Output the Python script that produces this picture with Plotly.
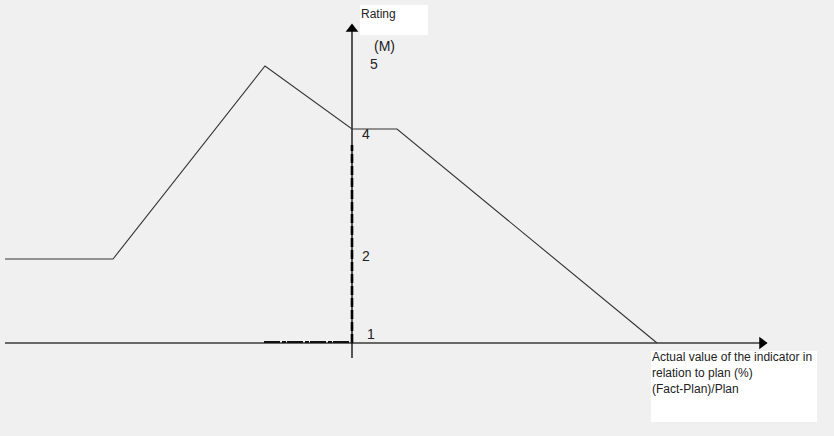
import plotly.graph_objects as go

# --- schematic data (chart units: x = offset from the rating axis, y = height above the plan axis) ---
curve_x = [-347, -239, -87, 0, 45, 305]
curve_y = [84, 84, 277, 214, 214, 0]

axis_x_span = [-347, 415]
axis_y_span = [-15, 318]
dashed_top = 198
flat_seg_x = [-88, 0]

rating_labels = ["5", "4", "2", "1"]
rating_label_pos = [(16, 279), (8, 209), (8, 87), (13, 9)]

BG = "#f0f0f0"
FONT = "Liberation Sans, Arial, sans-serif"

fig = go.Figure()

# x axis (plan deviation)
fig.add_trace(go.Scatter(x=axis_x_span, y=[0, 0], mode="lines",
                         line=dict(color="#3a3a3a", width=1.6), hoverinfo="skip"))
fig.add_trace(go.Scatter(x=[axis_x_span[1] - 5], y=[0], mode="markers",
                         marker=dict(symbol="triangle-right", size=11, color="black"),
                         hoverinfo="skip"))

# y axis (rating)
fig.add_trace(go.Scatter(x=[0, 0], y=axis_y_span, mode="lines",
                         line=dict(color="black", width=1.3), hoverinfo="skip"))
fig.add_trace(go.Scatter(x=[0], y=[axis_y_span[1] - 4], mode="markers",
                         marker=dict(symbol="triangle-up", size=11, color="black"),
                         hoverinfo="skip"))
fig.add_trace(go.Scatter(x=[0, 0], y=[0, dashed_top], mode="lines",
                         line=dict(color="black", width=2.6, dash="9px,3px"), hoverinfo="skip"))
fig.add_trace(go.Scatter(x=flat_seg_x, y=[1, 1], mode="lines",
                         line=dict(color="#111", width=2, dash="16px,2px,4px,1px"),
                         hoverinfo="skip"))

# rating curve
fig.add_trace(go.Scatter(x=curve_x, y=curve_y, mode="lines",
                         line=dict(color="#333", width=1.1), hoverinfo="skip"))

shapes = [
    dict(type="rect", xref="x", yref="y", x0=8, x1=76, y0=308, y1=338,
         fillcolor="white", line=dict(width=0), layer="below"),
    dict(type="rect", xref="x", yref="y", x0=299, x1=465, y0=-79, y1=-8,
         fillcolor="white", line=dict(width=0), layer="below"),
]

annotations = [
    dict(x=7, y=329, text="Rating", font=dict(size=12)),
    dict(x=20, y=297, text="(M)", font=dict(size=14)),
    dict(x=298, y=-14, text="Actual value of the indicator in", font=dict(size=12)),
    dict(x=298, y=-30, text="relation to plan (%)", font=dict(size=12)),
    dict(x=298, y=-46, text="(Fact-Plan)/Plan", font=dict(size=12)),
]
for lab, (lx, ly) in zip(rating_labels, rating_label_pos):
    annotations.append(dict(x=lx, y=ly, text=lab, font=dict(size=14)))
for a in annotations:
    a.update(xref="x", yref="y", showarrow=False, xanchor="left", yanchor="middle")
    a["font"].update(family=FONT, color="#222")

fig.update_layout(
    width=834, height=436,
    margin=dict(l=0, r=0, t=0, b=0),
    paper_bgcolor=BG, plot_bgcolor=BG,
    showlegend=False,
    xaxis=dict(range=[-352, 482], visible=False, fixedrange=True),
    yaxis=dict(range=[-93, 343], visible=False, fixedrange=True),
    shapes=shapes,
    annotations=annotations,
)

# page has a default 8px body margin; drop it so the chart fills the window
fig.write_html("out.html", config={"displayModeBar": False},
               post_script="document.body.style.margin='0';document.body.style.overflow='hidden';")
